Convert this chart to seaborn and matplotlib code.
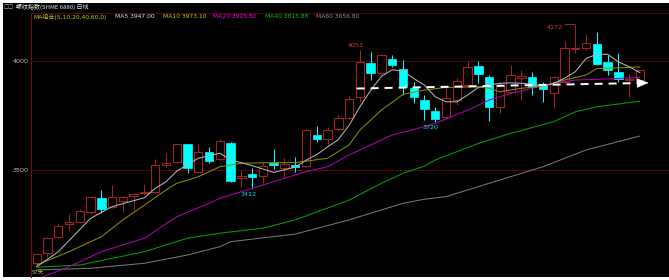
import matplotlib
matplotlib.use("Agg")
import matplotlib.pyplot as plt
import seaborn as sns
import pandas as pd
from matplotlib.patches import Rectangle, ArrowStyle

# ---------------- data ----------------
opens = [3073, 3118, 3191, 3251, 3260, 3306, 3370, 3332, 3359, 3381,
         3393, 3399, 3523, 3537, 3618, 3493, 3584, 3552, 3622, 3462,
         3482, 3474, 3532, 3509, 3523, 3520, 3661, 3641, 3688, 3737,
         3836, 3989, 3946, 4009, 3962, 3875, 3821, 3772, 3744, 3821,
         3890, 3977, 3928, 3790, 3859, 3923, 3928, 3890, 3855, 3905,
         4055, 4058, 4077, 3997, 3951, 3911, 3913]
highs = [3118, 3192, 3256, 3297, 3320, 3382, 3408, 3431, 3382, 3393,
         3436, 3550, 3578, 3620, 3620, 3618, 3607, 3641, 3630, 3500,
         3511, 3538, 3596, 3556, 3561, 3688, 3702, 3699, 3752, 3839,
         4053, 4040, 4032, 4028, 4005, 3905, 3844, 3790, 3875, 3922,
         4000, 4000, 3935, 3905, 3982, 3959, 3951, 3905, 3931, 4093,
         4172, 4122, 4132, 4028, 4035, 3940, 3961]
lows = [3062, 3100, 3188, 3220, 3255, 3300, 3301, 3325, 3309, 3317,
        3385, 3395, 3515, 3530, 3488, 3490, 3531, 3548, 3446, 3423,
        3412, 3442, 3503, 3469, 3492, 3515, 3630, 3615, 3685, 3733,
        3813, 3913, 3940, 3975, 3844, 3809, 3729, 3720, 3740, 3798,
        3880, 3898, 3726, 3760, 3855, 3821, 3844, 3813, 3788, 3900,
        4035, 4052, 3980, 3936, 3905, 3836, 3908]
closes = [3115, 3187, 3245, 3263, 3312, 3378, 3320, 3378, 3375, 3389,
          3400, 3521, 3533, 3618, 3509, 3584, 3541, 3634, 3451, 3474,
          3469, 3520, 3524, 3526, 3514, 3683, 3642, 3683, 3740, 3824,
          3994, 3946, 4028, 3982, 3881, 3833, 3780, 3732, 3829, 3908,
          3971, 3940, 3790, 3885, 3936, 3933, 3879, 3870, 3925, 4058,
          4058, 4081, 3985, 3959, 3916, 3917, 3959]

ma5_x = [0, 2, 5, 7, 10, 11, 12, 13, 15, 17, 18, 20, 22, 24, 25, 26, 28, 29, 30, 31,
         32, 33, 34, 35, 36, 37, 38, 39, 40, 41, 42, 43, 44, 45, 46, 47, 48, 49, 50,
         51, 52, 53, 54, 55, 56]
ma5_y = [3056, 3125, 3278, 3332, 3373, 3416, 3446, 3495, 3554, 3577, 3547, 3520, 3489,
         3513, 3545, 3571, 3640, 3705, 3790, 3865, 3930, 3960, 3955, 3920, 3890, 3836,
         3813, 3813, 3844, 3879, 3890, 3898, 3900, 3898, 3894, 3885, 3898, 3921, 3951,
         4012, 4031, 4031, 3997, 3974, 3947]
ma10_x = [0, 3, 6, 8, 10, 12, 13, 15, 17, 19, 22, 24, 27, 29, 30, 32, 34, 36, 38, 41,
          42, 43, 45, 47, 49, 51, 52, 54, 56]
ma10_y = [3064, 3125, 3194, 3271, 3339, 3408, 3439, 3469, 3515, 3531, 3534, 3534, 3554,
          3615, 3683, 3775, 3847, 3867, 3879, 3882, 3875, 3859, 3875, 3885, 3913, 3936,
          3966, 3969, 3973]
ma20_x = [0, 1, 3, 6, 10, 13, 16, 17, 20, 23, 25, 27, 29, 31, 33, 36, 37, 40, 42, 44,
          46, 48, 50, 52, 56]
ma20_y = [3000, 3018, 3056, 3125, 3187, 3286, 3347, 3370, 3416, 3462, 3492, 3515, 3569,
          3615, 3661, 3699, 3714, 3775, 3821, 3852, 3875, 3898, 3913, 3916, 3925]
ma40_x = [0, 4, 10, 14, 17, 21, 24, 29, 32, 34, 36, 37, 41, 44, 48, 50, 52, 56]
ma40_y = [3054, 3064, 3125, 3187, 3210, 3233, 3271, 3362, 3439, 3485, 3518, 3546, 3622,
          3668, 3722, 3767, 3790, 3816]
ma60_x = [0, 5, 10, 14, 17, 18, 24, 29, 32, 34, 36, 38, 42, 47, 51, 56]
ma60_y = [3041, 3049, 3072, 3110, 3148, 3171, 3206, 3271, 3317, 3347, 3366, 3378, 3439,
          3515, 3592, 3656]

ma_legend = ["MA5 3947.00", "MA10 3973.10", "MA20 3925.50", "MA40 3815.88", "MA60 3656.80"]
title_text = "螺纹指数(SHME 6880) 日线"
combo_text = "MA组合(5,10,20,40,60,0)"
ytick_vals = [3500, 4000]
ytick_labels = ["3500", "4000"]

# annotations: (x index, price, text)
hi_lo_labels = [(29.65, 4073, "4053", "#d23c3c"), (19.7, 3388, "3412", "#00e5e5"),
                (36.6, 3695, "3720", "#00e5e5"), (48.1, 4154, "4172", "#d23c3c")]
arrow_start = (29.7, 3874)
arrow_end = (56.8, 3900)

# ---------------- styling ----------------
sns.set_theme(style="dark")
plt.rcParams['font.family'] = ['DejaVu Sans', 'Noto Sans CJK SC']

W, H = 669, 280
fig = plt.figure(figsize=(W / 100, H / 100), dpi=100)
fig.patch.set_facecolor("white")
bg = Rectangle((3 / W, 3 / H), 1 - 3 / W, (H - 6) / H, transform=fig.transFigure,
               facecolor="black", edgecolor="none", zorder=-10)
fig.patches.append(bg)

ax = fig.add_axes([31 / W, 3 / H, (W - 31) / W, (277 - 12.7) / H])
ax.set_zorder(2)
ax.set_facecolor("black")
ax.set_xlim(-0.53, 58.7)
ax.set_ylim(3009, 4222)

RED = "#9c2424"
CYAN = "#00ffff"
n = len(opens)
xs = list(range(n))
bw = 0.78
for i in xs:
    o, h, l, c = opens[i], highs[i], lows[i], closes[i]
    up = c >= o
    col = RED if up else CYAN
    top, bot = max(o, c), min(o, c)
    ax.vlines(i, top, h, color=col, lw=0.75, zorder=3)
    ax.vlines(i, l, bot, color=col, lw=0.75, zorder=3)
    if up:
        ax.bar(i, max(top - bot, 1.5), bottom=bot, width=bw, facecolor="black",
               edgecolor=col, linewidth=0.8, zorder=4)
    else:
        ax.bar(i, max(top - bot, 1.5), bottom=bot, width=bw, facecolor=col,
               edgecolor=col, linewidth=0.5, zorder=4)

ma_specs = [(ma60_x, ma60_y, "#767676"), (ma40_x, ma40_y, "#00a000"),
            (ma20_x, ma20_y, "#b000b0"), (ma10_x, ma10_y, "#8a8a00"),
            (ma5_x, ma5_y, "#b4b4b4")]
for mx, my, colr in ma_specs:
    df = pd.DataFrame({"x": mx, "y": my})
    sns.lineplot(data=df, x="x", y="y", ax=ax, color=colr, lw=0.75, sort=False,
                 estimator=None, zorder=5)

# dashed arrow
x_base = arrow_end[0] - 1.0
y_base = arrow_start[1] + (arrow_end[1] - arrow_start[1]) * (x_base - arrow_start[0]) / (arrow_end[0] - arrow_start[0])
ax.plot([arrow_start[0], x_base], [arrow_start[1], y_base],
        color="white", lw=1.4, dashes=(4.1, 3.1), zorder=7)
ax.annotate("", xy=arrow_end, xytext=(x_base, y_base),
            arrowprops=dict(arrowstyle=ArrowStyle("-|>", head_length=0.75, head_width=0.3),
                            mutation_scale=10, color="white", lw=0.5, shrinkA=0, shrinkB=0),
            zorder=8)

for lx, ly, txt, colr in hi_lo_labels:
    ax.text(lx, ly, txt, color=colr, fontsize=4.6, ha="center", va="center", zorder=9)
# connector for 4172
ax.plot([49.05, 49.85], [4172, 4172], color=RED, lw=0.8, zorder=6)

ax.set_yticks(ytick_vals)
ax.set_yticklabels(ytick_labels)
ax.tick_params(axis="y", colors="#bdbdbd", labelsize=4.6, length=0, pad=1.5)
ax.set_xticks([])
ax.set_xlabel("")
ax.set_ylabel("")
ax.grid(False)
ax.yaxis.grid(True, color="#500808", lw=0.8)
for side in ["right", "bottom"]:
    ax.spines[side].set_visible(False)
ax.spines["left"].set_color("#7a0f0f")
ax.spines["left"].set_linewidth(0.8)
ax.spines["top"].set_color("#500808")
ax.spines["top"].set_linewidth(0.8)

# header texts
def ftxt(x, y, s, color, size, **kw):
    fig.text(x / W, 1 - y / H, s, color=color, fontsize=size, va="center", ha="left",
             zorder=20, **kw)

ftxt(4, 6.5, "□□", "#cfcfcf", 3.8)
ftxt(16, 6.5, title_text, "#e6e6e6", 4.3, family=['Noto Sans CJK SC', 'DejaVu Sans'])
ftxt(33, 17, combo_text, "#c8c800", 4.3)
leg_x = [115, 163, 213, 265, 316]
leg_c = ["#e0e0e0", "#c8c800", "#ff00ff", "#00c800", "#8c8c8c"]
for lx, s, c in zip(leg_x, ma_legend, leg_c):
    ftxt(lx, 17, s, c, 4.3)
ftxt(32, 272, "57天", "#c8c840", 3.8)

fig.savefig("out.png", dpi=100, facecolor=fig.get_facecolor())
